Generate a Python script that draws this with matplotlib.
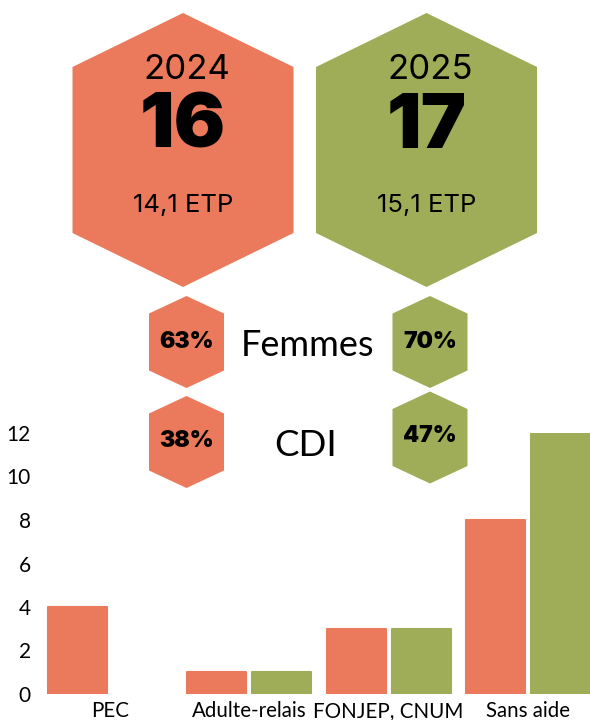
import matplotlib
matplotlib.use("Agg")
import matplotlib.pyplot as plt
from matplotlib.patches import Polygon
import numpy as np

# ---- data ----
years = ["2024", "2025"]
totals = ["16", "17"]
etp = ["14,1 ETP", "15,1 ETP"]
femmes_pct = ["63%", "70%"]
cdi_pct = ["38%", "47%"]
categories = ["PEC", "Adulte-relais", "FONJEP, CNUM", "Sans aide"]
values_2024 = [4, 1, 3, 8]
values_2025 = [0, 1, 3, 12]
yticks = [0, 2, 4, 6, 8, 10, 12]

C24 = "#EA7A5B"
C25 = "#A0AD58"

W, H = 590, 720
fig = plt.figure(figsize=(W / 100, H / 100), dpi=100)

# ---- bar chart ----
x0_px, x_step = 110.0, 139.3
y0_px, y12_px = 694.0, 433.0
xl = -0.5
xr = 3 + (W - (x0_px + 3 * x_step)) / x_step
left = (x0_px + xl * x_step) / W
right = W / W
ax = fig.add_axes([left, 1 - y0_px / H, right - left, (y0_px - y12_px) / H])
x = np.arange(len(categories))
bw = 59 / x_step
off = 32.5 / x_step
ax.bar(x - off, values_2024, bw, color=C24, edgecolor=C24, linewidth=1.5, joinstyle="round")
ax.bar(x + off, [v if v else np.nan for v in values_2025], bw, color=C25, edgecolor=C25, linewidth=1.5, joinstyle="round")
ax.set_xlim(xl, xr)
ax.set_ylim(0, 12)
ax.set_yticks(yticks)
ax.set_xticks(x)
ax.set_xticklabels(categories, fontsize=14.8, family="Lato")
ax.set_yticklabels([str(t) for t in yticks], fontsize=15, family="Lato")
ax.tick_params(axis="x", length=0, pad=5)
ax.tick_params(axis="y", length=0, pad=7)
for s in ax.spines.values():
    s.set_visible(False)
ax.patch.set_visible(False)

# ---- overlay with hexagons ----
ov = fig.add_axes([0, 0, 1, 1])
ov.set_xlim(0, W)
ov.set_ylim(H, 0)
ov.axis("off")
ov.patch.set_visible(False)


def hexagon(cx, cy, hw, hh, hs, color):
    pts = [(cx, cy - hh), (cx + hw, cy - hs), (cx + hw, cy + hs),
           (cx, cy + hh), (cx - hw, cy + hs), (cx - hw, cy - hs)]
    ov.add_patch(Polygon(pts, closed=True, facecolor=color, edgecolor="none"))


big_cx = [183, 426.5]
colors = [C24, C25]
for i in range(2):
    hexagon(big_cx[i], 150, 110.5, 137, 83, colors[i])
    ov.text(big_cx[i] + 4, 70, years[i], ha="center", va="center", fontsize=25,
            family="Inter", color="black")
    ov.text(big_cx[i], 128, totals[i], ha="center", va="center", fontsize=55,
            family="Inter", fontweight="black", color="black")
    ov.text(big_cx[i], 205, etp[i], ha="center", va="center", fontsize=18.5,
            family="Inter", color="black")

small_cx = [186.5, 430]
fem_cy = [342, 342]
cdi_cy = [442, 437.5]
for i in range(2):
    hexagon(small_cx[i], fem_cy[i], 37.5, 46, 28.5, colors[i])
    hexagon(small_cx[i], cdi_cy[i], 37.5, 46, 28.5, colors[i])
    ov.text(small_cx[i], fem_cy[i], femmes_pct[i], ha="center", va="center",
            fontsize=16.5, family="Inter", fontweight="black")
    ov.text(small_cx[i], cdi_cy[i] - 1, cdi_pct[i], ha="center", va="center",
            fontsize=16.5, family="Inter", fontweight="black")

ov.text(307, 345, "Femmes", ha="center", va="center", fontsize=26, family="Lato")
ov.text(306, 446, "CDI", ha="center", va="center", fontsize=26.5, family="Lato")

fig.savefig("out.png", dpi=100)
